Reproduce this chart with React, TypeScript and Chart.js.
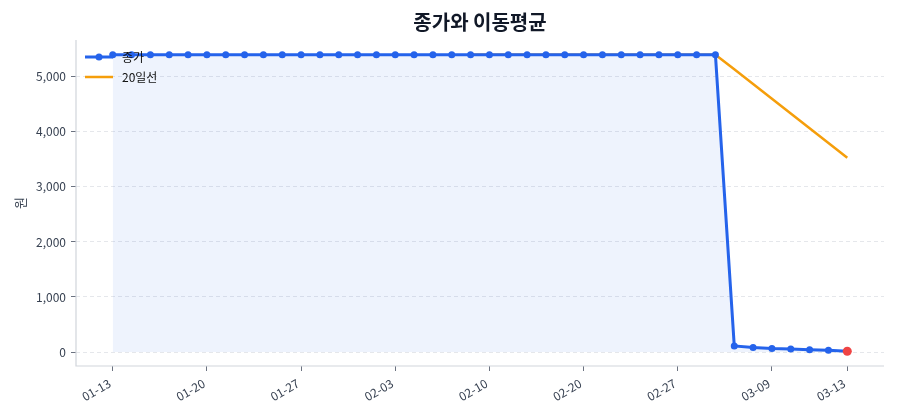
import React, { useEffect, useRef } from "react";
import { Chart, registerables } from "chart.js";

Chart.register(...registerables);

// ---- data ----
const labels = [
  "01-13", "01-14", "01-15", "01-16", "01-19", "01-20", "01-21", "01-22", "01-23", "01-26",
  "01-27", "01-28", "01-29", "01-30", "02-02", "02-03", "02-04", "02-05", "02-06", "02-09",
  "02-10", "02-11", "02-12", "02-13", "02-19", "02-20", "02-23", "02-24", "02-25", "02-26",
  "02-27", "03-03", "03-04", "03-05", "03-06", "03-09", "03-10", "03-11", "03-12", "03-13",
];

const closePrice = [
  5400, 5400, 5400, 5400, 5400, 5400, 5400, 5400, 5400, 5400,
  5400, 5400, 5400, 5400, 5400, 5400, 5400, 5400, 5400, 5400,
  5400, 5400, 5400, 5400, 5400, 5400, 5400, 5400, 5400, 5400,
  5400, 5400, 5400, 110, 80, 62, 55, 40, 30, 15,
];

const ma20 = [
  null, null, null, null, null, null, null, null, null, null,
  null, null, null, null, null, null, null, null, null, 5400,
  5400, 5400, 5400, 5400, 5400, 5400, 5400, 5400, 5400, 5400,
  5400, 5400, 5400, 5136, 4870, 4603, 4335, 4067, 3799, 3530,
];

const xTickIndex = [0, 5, 10, 15, 20, 25, 30, 35, 39];
const yTickValues = [0, 1000, 2000, 3000, 4000, 5000];

const TITLE = "종가와 이동평균";
const Y_TITLE = "원";
const SERIES = ["종가", "20일선"];

// ---- styles ----
const FONT = '"Noto Sans CJK KR", "Noto Sans", sans-serif';
const BLUE = "#2563eb";
const ORANGE = "#f59e0b";
const RED = "#ef4444";
const TEXT = "#374151";
const SPINE = "#d1d5db";
const GRID = "#e5e7eb";
const TICK = "#6b7280";

const decorPlugin = {
  id: "decor",
  afterDraw(chart: any) {
    const { ctx, chartArea } = chart;
    const { left, right, top, bottom } = chartArea;
    ctx.save();
    // spines
    ctx.strokeStyle = SPINE;
    ctx.lineWidth = 1.2;
    ctx.beginPath();
    ctx.moveTo(left, top);
    ctx.lineTo(left, bottom);
    ctx.lineTo(right, bottom);
    ctx.stroke();

    // title
    ctx.fillStyle = "#111827";
    ctx.font = `bold 20px ${FONT}`;
    ctx.textAlign = "center";
    ctx.textBaseline = "middle";
    ctx.fillText(TITLE, (left + right) / 2, 22);

    // legend
    const ds = chart.data.datasets;
    const hx0 = left + 9;
    const hx1 = left + 37;
    const tx = left + 46;
    const rows = [57, 77];
    ctx.font = `12px ${FONT}`;
    ctx.textAlign = "left";
    ds.forEach((d: any, i: number) => {
      const y = rows[i];
      ctx.strokeStyle = d.borderColor;
      ctx.lineWidth = d.borderWidth;
      ctx.beginPath();
      ctx.moveTo(hx0, y);
      ctx.lineTo(hx1, y);
      ctx.stroke();
      if (i === 0) {
        ctx.fillStyle = d.borderColor;
        ctx.beginPath();
        ctx.arc((hx0 + hx1) / 2, y, 3.5, 0, Math.PI * 2);
        ctx.fill();
      }
      ctx.fillStyle = "#111111";
      ctx.fillText(d.label, tx, y);
    });
    ctx.restore();
  },
};

export default function App() {
  const canvasRef = useRef<HTMLCanvasElement | null>(null);

  useEffect(() => {
    document.body.style.margin = "0";
    const canvas = canvasRef.current;
    if (!canvas) return;
    const last = closePrice.length - 1;
    const chart = new Chart(canvas, {
      type: "line",
      data: {
        datasets: [
          {
            label: SERIES[0],
            data: closePrice.map((v, i) => ({ x: i, y: v })),
            borderColor: BLUE,
            borderWidth: 3,
            backgroundColor: "rgba(37,99,235,0.08)",
            fill: { value: 0 },
            tension: 0,
            pointRadius: (c: any) => (c.dataIndex === last ? 4.5 : 3.5),
            pointBackgroundColor: (c: any) => (c.dataIndex === last ? RED : BLUE),
            pointBorderColor: (c: any) => (c.dataIndex === last ? RED : BLUE),
            pointBorderWidth: 0,
          },
          {
            label: SERIES[1],
            data: ma20.map((v, i) => ({ x: i, y: v })),
            borderColor: ORANGE,
            borderWidth: 2.5,
            pointRadius: 0,
            fill: false,
            tension: 0,
          },
        ],
      } as any,
      options: {
        animation: false,
        responsive: false,
        devicePixelRatio: 1,
        layout: { padding: { top: 40, right: 16, bottom: 0, left: 0 } },
        plugins: {
          legend: { display: false },
          title: { display: false },
          tooltip: { enabled: false },
        },
        scales: {
          x: {
            type: "linear",
            min: -1.95,
            max: 40.95,
            afterBuildTicks: (s: any) => {
              s.ticks = xTickIndex.map((v) => ({ value: v }));
            },
            afterFit: (s: any) => {
              s.height = 54;
            },
            ticks: {
              autoSkip: false,
              minRotation: 30,
              maxRotation: 30,
              padding: 5,
              labelOffset: -3,
              color: TEXT,
              font: { family: FONT, size: 12 },
              callback: (v: any) => labels[v],
            },
            grid: {
              drawOnChartArea: false,
              drawTicks: true,
              tickLength: 5,
              tickColor: TICK,
              tickWidth: 1,
            },
            border: { display: false },
          },
          y: {
            type: "linear",
            min: -254,
            max: 5669,
            afterBuildTicks: (s: any) => {
              s.ticks = yTickValues.map((v) => ({ value: v }));
            },
            afterFit: (s: any) => {
              s.width = 76;
            },
            ticks: {
              padding: 5,
              color: TEXT,
              font: { family: FONT, size: 12 },
              callback: (v: any) => Number(v).toLocaleString("en-US"),
            },
            grid: {
              color: GRID,
              lineWidth: 1,
              drawTicks: true,
              tickLength: 5,
              tickColor: TICK,
              tickWidth: 1,
              tickBorderDash: [],
            },
            border: { display: false, dash: [4, 3] },
            title: {
              display: true,
              text: Y_TITLE,
              color: TEXT,
              font: { family: FONT, size: 13 },
              padding: { top: 12, bottom: 0 },
            },
          },
        },
      } as any,
      plugins: [decorPlugin],
    });
    return () => chart.destroy();
  }, []);

  return (
    <div style={{ width: 900, height: 420 }}>
      <canvas ref={canvasRef} width={900} height={420} style={{ display: "block" }} />
    </div>
  );
}
